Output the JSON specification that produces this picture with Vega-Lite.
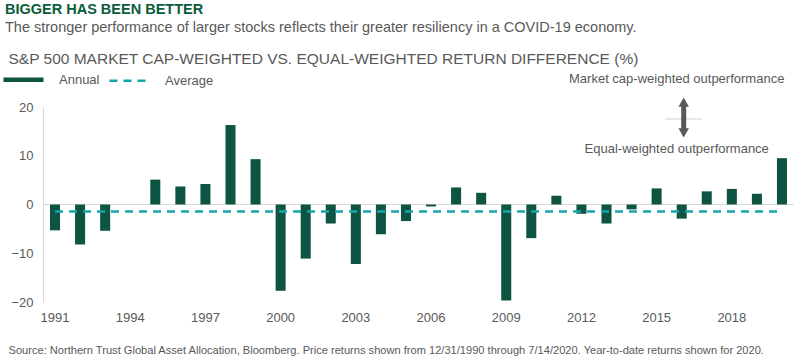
{
  "$schema": "https://vega.github.io/schema/vega-lite/v6.json",
  "autosize": "none",
  "width": 751,
  "height": 195,
  "padding": {"left": 43, "top": 107, "right": 6, "bottom": 60},
  "background": "white",
  "config": {
    "font": "Liberation Sans",
    "view": {"stroke": null}
  },
  "title": {
    "text": "BIGGER HAS BEEN BETTER",
    "subtitle": "The stronger performance of larger stocks reflects their greater resiliency in a COVID-19 economy.",
    "anchor": "start",
    "frame": "group",
    "dx": -38,
    "offset": 16,
    "font": "Liberation Sans",
    "fontSize": 14.5,
    "fontWeight": "bold",
    "color": "#0b5c3b",
    "subtitleFont": "Liberation Sans",
    "subtitleFontSize": 14.5,
    "subtitleColor": "#595959",
    "subtitlePadding": 3
  },
  "datasets": {
    "annual": [
      {"year": 1991, "value": -5.3},
      {"year": 1992, "value": -8.2},
      {"year": 1993, "value": -5.4},
      {"year": 1994, "value": 0},
      {"year": 1995, "value": 5.1},
      {"year": 1996, "value": 3.7},
      {"year": 1997, "value": 4.2},
      {"year": 1998, "value": 16.3},
      {"year": 1999, "value": 9.3},
      {"year": 2000, "value": -17.7},
      {"year": 2001, "value": -11.1},
      {"year": 2002, "value": -3.9},
      {"year": 2003, "value": -12.2},
      {"year": 2004, "value": -6.1},
      {"year": 2005, "value": -3.4},
      {"year": 2006, "value": -0.4},
      {"year": 2007, "value": 3.5},
      {"year": 2008, "value": 2.4},
      {"year": 2009, "value": -19.7},
      {"year": 2010, "value": -6.9},
      {"year": 2011, "value": 1.8},
      {"year": 2012, "value": -1.9},
      {"year": 2013, "value": -3.9},
      {"year": 2014, "value": -1.0},
      {"year": 2015, "value": 3.3},
      {"year": 2016, "value": -2.9},
      {"year": 2017, "value": 2.7},
      {"year": 2018, "value": 3.2},
      {"year": 2019, "value": 2.2},
      {"year": 2020, "value": 9.5}
    ],
    "notes": [
      {"year": 2016, "value": 25.7, "label": "Market cap-weighted outperformance"},
      {"year": 2016, "value": 11.4, "label": "Equal-weighted outperformance"}
    ]
  },
  "layer": [
    {
      "data": {"values": [{"v": 0}]},
      "mark": {"type": "rule", "color": "#d9d9d9", "strokeWidth": 1},
      "encoding": {"y": {"field": "v", "type": "quantitative", "scale": {"domain": [-20, 20]}}}
    },
    {
      "data": {"name": "annual"},
      "mark": {"type": "bar"},
      "encoding": {
        "x": {
          "field": "year",
          "type": "ordinal",
          "scale": {"paddingInner": 0.6, "paddingOuter": 0.28},
          "axis": {
            "values": [1991, 1994, 1997, 2000, 2003, 2006, 2009, 2012, 2015, 2018],
            "labelAngle": 0,
            "domain": false,
            "ticks": false,
            "labelPadding": 9,
            "labelFontSize": 13,
            "labelColor": "#595959",
            "title": "Source: Northern Trust Global Asset Allocation, Bloomberg. Price returns shown from 12/31/1990 through 7/14/2020. Year-to-date returns shown for 2020.",
            "titleFont": "Liberation Sans",
            "titleFontSize": 11.1,
            "titleFontWeight": "normal",
            "titleColor": "#595959",
            "titleAnchor": "start",
            "titleAlign": "left",
            "titleBaseline": "middle",
            "titleX": -35,
            "titleY": 48
          }
        },
        "y": {
          "field": "value",
          "type": "quantitative",
          "scale": {"domain": [-20, 20]},
          "axis": {
            "values": [-20, -10, 0, 10, 20],
            "grid": false,
            "ticks": false,
            "domainColor": "#d9d9d9",
            "labelFontSize": 13,
            "labelColor": "#595959",
            "labelPadding": 10,
            "title": "S&P 500 MARKET CAP-WEIGHTED VS. EQUAL-WEIGHTED RETURN DIFFERENCE (%)",
            "titleAngle": 0,
            "titleAlign": "left",
            "titleBaseline": "middle",
            "titleX": -35,
            "titleY": -49,
            "titleFontSize": 15.5,
            "titleFontWeight": "normal",
            "titleColor": "#595959"
          }
        },
        "color": {
          "datum": "Annual",
          "type": "nominal",
          "scale": {"domain": ["Annual", "Average"], "range": ["#0d5443", "#17a5ad"]},
          "legend": {
            "orient": "none",
            "legendX": -26,
            "legendY": -34,
            "direction": "horizontal",
            "title": null,
            "symbolType": "stroke",
            "symbolSize": 1600,
            "labelFontSize": 13,
            "labelColor": "#595959",
            "labelOffset": 29,
            "columnPadding": 4,
            "encode": {
              "symbols": {
                "update": {
                  "stroke": {"signal": "datum.value === 'Average' ? '#17a5ad' : '#0d5443'"},
                  "strokeWidth": {"signal": "datum.value === 'Average' ? 2.5 : 4.5"},
                  "strokeDash": {"signal": "datum.value === 'Average' ? [8, 6] : [1, 0]"},
                  "opacity": {"value": 1},
                  "strokeOpacity": {"value": 1}
                }
              }
            }
          }
        }
      }
    },
    {
      "data": {"values": [{"from": 1991, "to": 2020, "avg": -1.45}]},
      "mark": {"type": "rule", "color": "#17a5ad", "strokeWidth": 2.5, "strokeDash": [8, 6]},
      "encoding": {
        "x": {"field": "from", "type": "ordinal"},
        "x2": {"field": "to"},
        "y": {"field": "avg", "type": "quantitative"}
      }
    },
    {
      "data": {"values": [{"year": 2016, "value": 17.55}]},
      "mark": {"type": "tick", "color": "#bfbfbf", "size": 37, "thickness": 1, "xOffset": 2, "clip": false},
      "encoding": {
        "x": {"field": "year", "type": "ordinal"},
        "y": {"field": "value", "type": "quantitative"}
      }
    },
    {
      "data": {"values": [{"year": 2016, "top": 20.8, "bottom": 14.9}]},
      "mark": {"type": "rule", "color": "#595959", "strokeWidth": 5, "xOffset": 2},
      "encoding": {
        "x": {"field": "year", "type": "ordinal"},
        "y": {"field": "top", "type": "quantitative"},
        "y2": {"field": "bottom"}
      }
    },
    {
      "data": {"values": [{"year": 2016, "value": 21.0, "dir": "up"}, {"year": 2016, "value": 14.7, "dir": "down"}]},
      "mark": {"type": "point", "filled": true, "color": "#595959", "opacity": 1, "size": 110, "xOffset": 2},
      "encoding": {
        "x": {"field": "year", "type": "ordinal"},
        "y": {"field": "value", "type": "quantitative"},
        "shape": {
          "field": "dir",
          "type": "nominal",
          "scale": {"domain": ["up", "down"], "range": ["triangle-up", "triangle-down"]},
          "legend": null
        }
      }
    },
    {
      "data": {"name": "notes"},
      "mark": {"type": "text", "fontSize": 13, "color": "#595959", "dx": -5, "align": "center", "baseline": "middle"},
      "encoding": {
        "x": {"field": "year", "type": "ordinal"},
        "y": {"field": "value", "type": "quantitative"},
        "text": {"field": "label"}
      }
    }
  ],
  "resolve": {"legend": {"color": "independent"}}
}
